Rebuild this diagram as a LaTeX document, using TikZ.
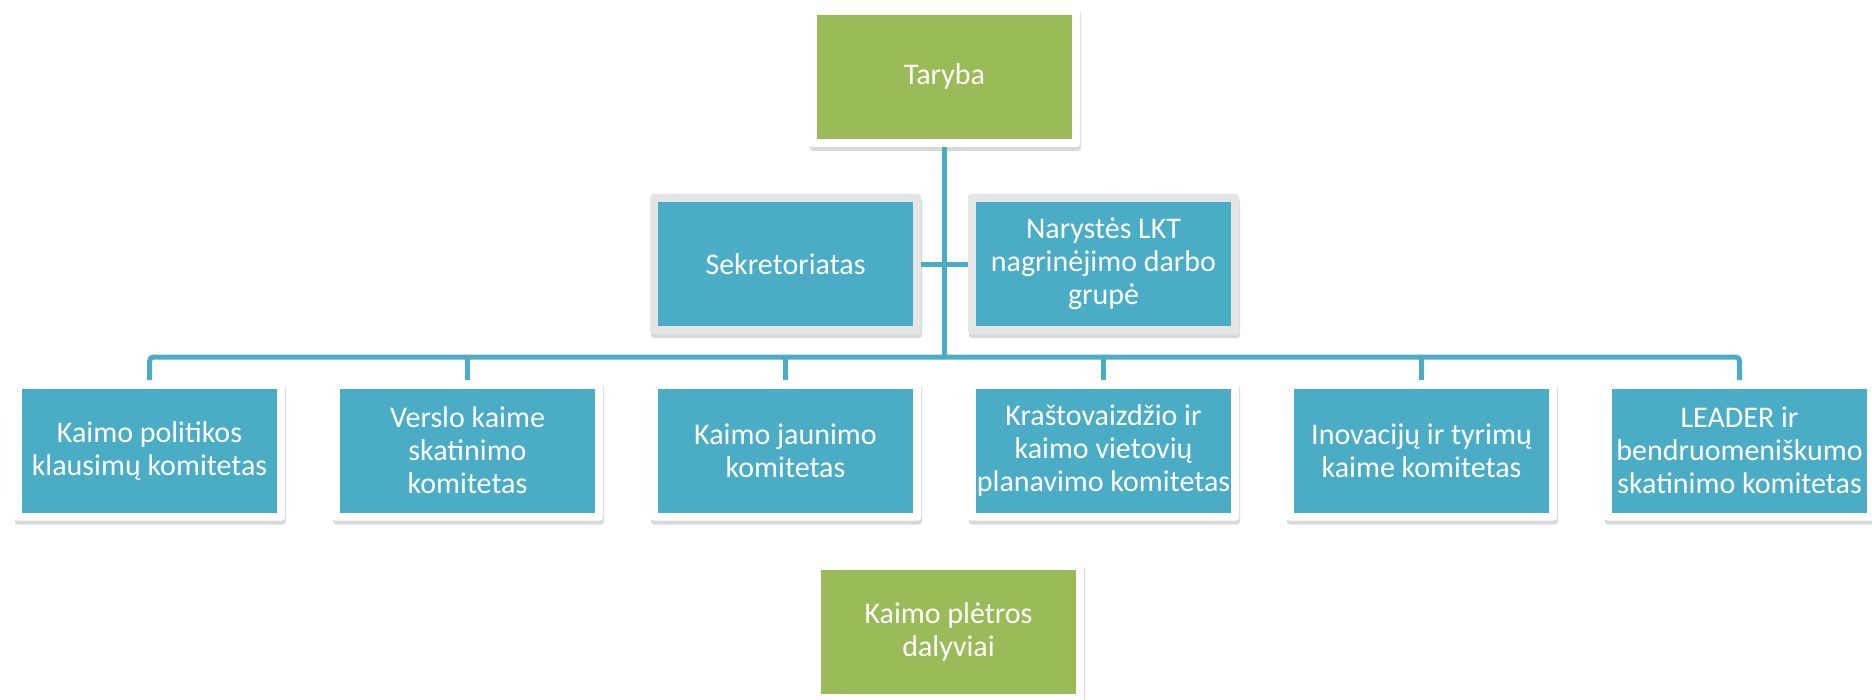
\documentclass[tikz,border=0pt]{standalone}
\usepackage{fontspec}
\setmainfont{Carlito}
\usetikzlibrary{shadows}

\definecolor{leafgreen}{HTML}{9BBB59}
\definecolor{seablue}{HTML}{4BACC6}

\begin{document}
\begin{tikzpicture}[x=0.5pt,y=-0.5pt,
  card/.style={fill=white,minimum width=135.5pt,minimum height=70pt,inner sep=0pt,
    rounded corners=1.5pt,text=white,align=center,
    font=\fontsize{15}{16.5}\selectfont,
    drop shadow={shadow xshift=0.5pt,shadow yshift=-2pt,opacity=0.3},
    path picture={\fill[sharp corners,#1]
      ([shift={(4pt,4pt)}]path picture bounding box.south west) rectangle
      ([shift={(-4pt,-4pt)}]path picture bounding box.north east);}},
  greycard/.style={card=seablue,fill=black!10},
  link/.style={draw=seablue,line width=2.5pt}]
\useasboundingbox (0,0) rectangle (1872,700);

\node[card=leafgreen] (taryba) at (944.5,77) {Taryba};
\node[greycard] (sekr) at (785.5,264) {Sekretoriatas};
\node[greycard] (naryste) at (1103.5,264) {Narystės LKT\\nagrinėjimo darbo\\grupė};

\node[card=seablue] (kpk) at (149.5,450.5) {Kaimo politikos\\klausimų komitetas};
\node[card=seablue] (vks) at (467.5,450.5) {Verslo kaime\\skatinimo\\komitetas};
\node[card=seablue] (kjk) at (785.5,450.5) {Kaimo jaunimo\\komitetas};
\node[card=seablue] (kvpk) at (1103.5,450.5) {Kraštovaizdžio ir\\kaimo vietovių\\planavimo komitetas};
\node[card=seablue] (itk) at (1421.5,450.5) {Inovacijų ir tyrimų\\kaime komitetas};
\node[card=seablue] (lbsk) at (1739.5,450.5) {LEADER ir\\bendruomeniškumo\\skatinimo komitetas};

\node[card=leafgreen] (dalyviai) at (948.5,631.5) {Kaimo plėtros\\dalyviai};

\coordinate (bus) at (944,357);
\draw[link] (taryba.south) -- (taryba.south |- bus);
\draw[link] (sekr.east) -- (naryste.west);
\draw[link,rounded corners=2pt] (kpk.north) |- (bus) -| (lbsk.north);
\draw[link] (vks.north) -- (vks.north |- bus);
\draw[link] (kjk.north) -- (kjk.north |- bus);
\draw[link] (kvpk.north) -- (kvpk.north |- bus);
\draw[link] (itk.north) -- (itk.north |- bus);
\end{tikzpicture}
\end{document}
